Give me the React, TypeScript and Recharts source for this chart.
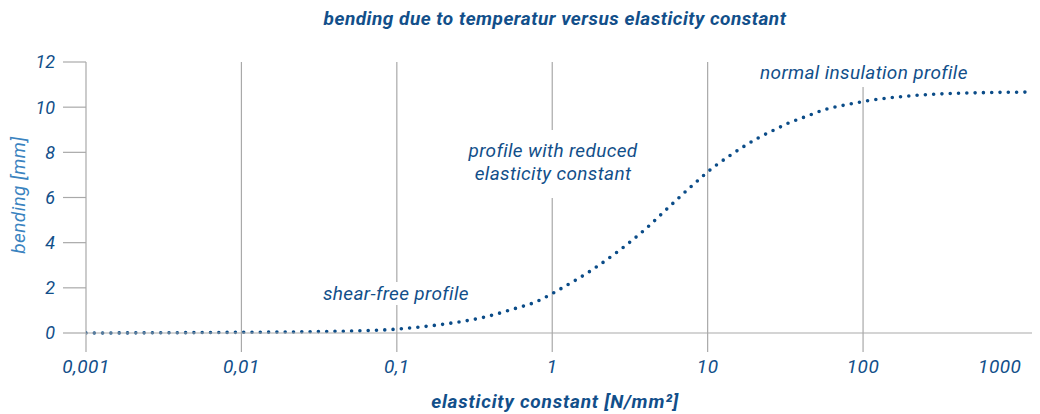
import { LineChart, Line, XAxis, YAxis, ReferenceLine } from 'recharts'

const BLUE   = '#124f8a'
const LIGHT  = '#3a83bf'
const GRID   = '#a9a9a9'
const FONT   = 'Roboto, sans-serif'

// elasticity constant [N/mm²] (log axis) and bending [mm]
const elasticity = [0.001, 0.003, 0.01, 0.03, 0.08, 0.1, 0.13, 0.22, 0.36, 0.58, 0.78, 0.98, 1.07, 1.8, 2.66, 4.05, 5.72, 8.17, 10.9, 13.8, 17, 21.3, 26.8, 33.5, 42.6, 57.8, 82.5, 104, 173, 282, 500, 1222]
const bending    = [0, 0.01, 0.03, 0.06, 0.13, 0.17, 0.24, 0.43, 0.69, 1.09, 1.37, 1.71, 1.86, 2.79, 3.62, 4.65, 5.62, 6.6, 7.34, 7.84, 8.25, 8.65, 8.99, 9.31, 9.58, 9.91, 10.14, 10.27, 10.46, 10.57, 10.63, 10.67]

const xTicks   = [0.001, 0.01, 0.1, 1, 10, 100, 1000]
const xLabels  = ['0,001', '0,01', '0,1', '1', '10', '100', '1000']
const gridAt   = [0.001, 0.01, 0.1, 1, 10, 100]
const yTicks   = [0, 2, 4, 6, 8, 10, 12]

const data = elasticity.map((e, i) => ({ e, bending: bending[i] }))

const TICK_SIZE = 19
const TICK_MARGIN = 8

function XTick({ x, y, payload }: { x?: number; y?: number; payload?: { value: number } }) {
  if (x == null || y == null || !payload) return null
  const i = xTicks.indexOf(payload.value)
  const last = payload.value === 1000
  return (
    <g>
      {!last && <line x1={x} x2={x} y1={y - TICK_MARGIN - TICK_SIZE} y2={y - TICK_MARGIN} stroke={GRID} strokeWidth={1.2} />}
      <text x={last ? x + 3 : x} y={y} dy="0.71em" textAnchor={last ? 'end' : 'middle'} letterSpacing={0.5}
        fill={BLUE} fontSize={19} fontStyle="italic" fontFamily={FONT}>{xLabels[i]}</text>
    </g>
  )
}

const note: React.CSSProperties = {
  position: 'absolute', background: '#fff', color: BLUE, fontFamily: FONT,
  fontStyle: 'italic', fontSize: 19, letterSpacing: 0.35, lineHeight: '23px', whiteSpace: 'nowrap',
}

export default function App() {
  return (
    <div style={{ position: 'absolute', left: 0, top: 0, width: 1040, height: 414, background: '#fff', fontFamily: FONT }}>
      <div style={{ position: 'absolute', top: 7, left: 0, width: 1110, textAlign: 'center', color: BLUE,
        fontWeight: 700, fontStyle: 'italic', fontSize: 19, letterSpacing: 0.5 }}>
        bending due to temperatur versus elasticity constant
      </div>
      <LineChart width={1040} height={414} data={data} margin={{ top: 62, right: 8, left: 0, bottom: 0 }}>
        {gridAt.map((g) => <ReferenceLine key={g} x={g} stroke={GRID} strokeWidth={1.2} />)}
        <XAxis dataKey="e" type="number" scale="log" domain={[0.001, 1222]} allowDataOverflow
          ticks={xTicks} interval={0} height={81} tickSize={TICK_SIZE} tickMargin={TICK_MARGIN}
          tickLine={false} axisLine={{ stroke: GRID, strokeWidth: 1.2 }} tick={<XTick />} />
        <YAxis type="number" domain={[0, 12]} ticks={yTicks} width={86} tickSize={23} tickMargin={8}
          axisLine={false} tickLine={{ stroke: GRID, strokeWidth: 1.2 }}
          tick={{ fill: BLUE, fontSize: 18, fontStyle: 'italic', fontFamily: FONT }} />
        <Line type="monotone" dataKey="bending" stroke="#0b4c88" strokeWidth={3.6}
          strokeDasharray="0 8.3" strokeLinecap="round" dot={false} isAnimationActive={false} />
      </LineChart>
      <div style={{ position: 'absolute', left: 18, top: 195, transform: 'translate(-50%, -50%) rotate(-90deg)',
        color: LIGHT, fontStyle: 'italic', fontSize: 19, letterSpacing: 0.4, whiteSpace: 'nowrap' }}>
        bending [mm]
      </div>
      <div style={{ position: 'absolute', top: 390, left: 0, width: 1110, textAlign: 'center', color: BLUE,
        fontWeight: 700, fontStyle: 'italic', fontSize: 19, letterSpacing: 0.8 }}>
        elasticity constant [N/mm²]
      </div>
      <div style={{ ...note, left: 323, top: 282 }}>shear-free profile</div>
      <div style={{ ...note, left: 448, top: 130, width: 210, height: 68, textAlign: 'center', paddingTop: 9, boxSizing: 'border-box' }}>
        profile with reduced<br />elasticity constant
      </div>
      <div style={{ ...note, left: 756, top: 60, height: 27, padding: '1px 4px', boxSizing: 'border-box' }}>normal insulation profile</div>
    </div>
  )
}
